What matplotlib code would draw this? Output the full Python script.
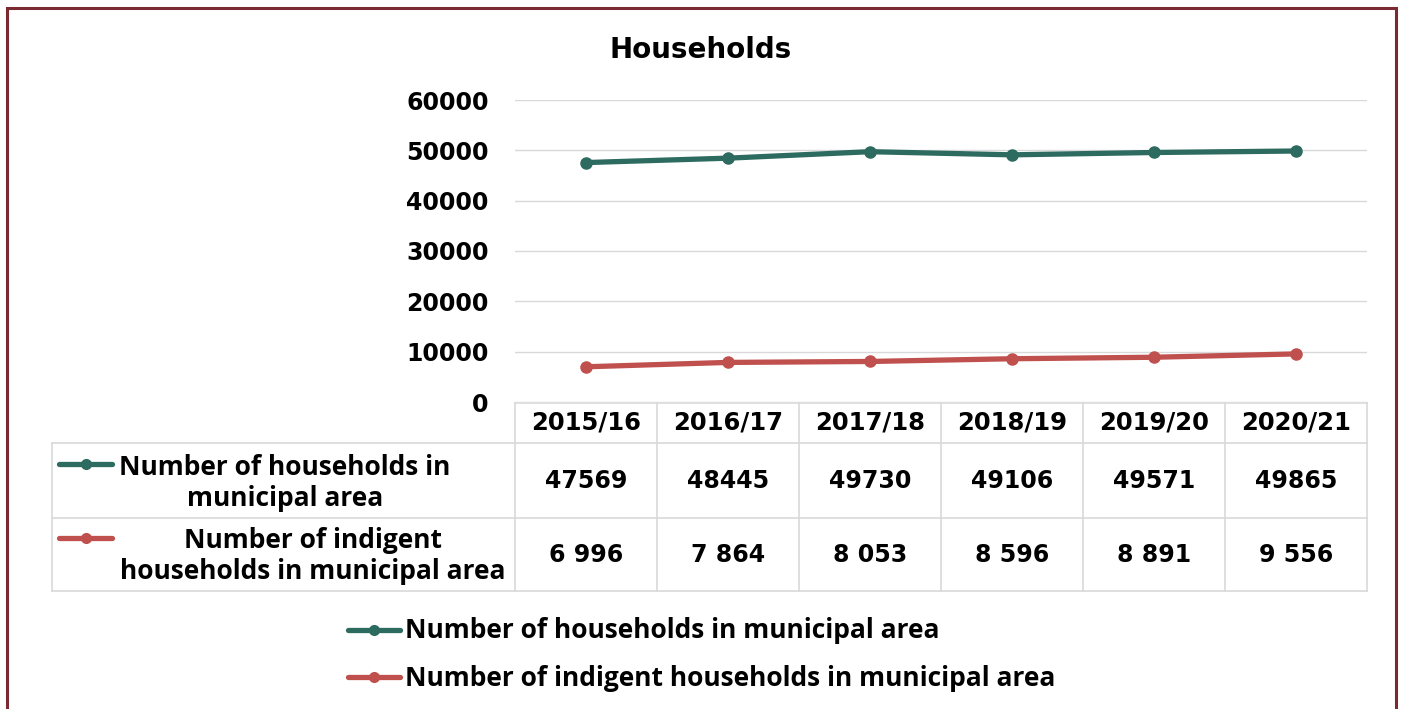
import matplotlib
matplotlib.use("Agg")
import matplotlib.pyplot as plt
from matplotlib.lines import Line2D
from matplotlib.patches import Rectangle
from matplotlib.transforms import blended_transform_factory

years = ["2015/16", "2016/17", "2017/18", "2018/19", "2019/20", "2020/21"]
households = [47569, 48445, 49730, 49106, 49571, 49865]
indigent = [6996, 7864, 8053, 8596, 8891, 9556]
households_txt = ["47569", "48445", "49730", "49106", "49571", "49865"]
indigent_txt = ["6 996", "7 864", "8 053", "8 596", "8 891", "9 556"]
series_names = ["Number of households in municipal area",
                "Number of indigent households in municipal area"]

GREEN = "#2d6a5f"
RED = "#c0504d"
GRID = "#d9d9d9"
W, H = 1402, 709
NARROW = "Open Sans"   # row headers and legend

plt.rcParams["font.family"] = "DejaVu Sans"
plt.rcParams["font.weight"] = "bold"

fig = plt.figure(figsize=(W / 100, H / 100), dpi=100)


def fx(px):
    return px / W


def fy(py):
    return 1 - py / H


ax = fig.add_axes([fx(515), fy(402), fx(1367) - fx(515), fy(100) - fy(402)])
x = list(range(len(years)))
ax.plot(x, households, color=GREEN, lw=3.8, marker="o", ms=8, zorder=3)
ax.plot(x, indigent, color=RED, lw=3.8, marker="o", ms=8, zorder=3)
ax.set_xlim(-0.5, len(years) - 0.5)
ax.set_ylim(0, 60000)
ax.set_yticks(range(0, 60001, 10000))
ax.set_xticks([])
ax.grid(axis="y", color=GRID, lw=1)
ax.set_axisbelow(True)
for s in ax.spines.values():
    s.set_visible(False)
ax.tick_params(axis="y", length=0, pad=19, labelsize=17)

fig.text(fx(701), fy(50), "Households", ha="center", va="center",
         fontsize=20, fontweight="bold")

# data table under the plot
tr = blended_transform_factory(ax.transData, fig.transFigure)
top, head, r1, r2 = 403, 443, 518, 591
left = 52
for yy, x0 in [(top, 515), (head, left), (r1, left), (r2, left)]:
    fig.add_artist(Line2D([fx(x0), fx(1367)], [fy(yy), fy(yy)], color=GRID, lw=1.2))
fig.add_artist(Line2D([fx(left), fx(left)], [fy(head), fy(r2)], color=GRID, lw=1.2))
for i in range(len(years) + 1):
    fig.add_artist(Line2D([i - 0.5, i - 0.5], [fy(top), fy(r2)], color=GRID,
                          lw=1.2, transform=tr))

for i, yr in enumerate(years):
    fig.text(i, fy((top + head) / 2), yr, transform=tr, ha="center", va="center",
             fontsize=17.5)
    fig.text(i, fy((head + r1) / 2), households_txt[i], transform=tr,
             ha="center", va="center", fontsize=17)
    fig.text(i, fy((r1 + r2) / 2), indigent_txt[i], transform=tr,
             ha="center", va="center", fontsize=17)

# row headers with legend keys
for color, ky in [(GREEN, 464), (RED, 538)]:
    fig.add_artist(Line2D([fx(59), fx(112)], [fy(ky), fy(ky)], color=color, lw=3.8,
                          solid_capstyle="round"))
    fig.add_artist(Line2D([fx(86)], [fy(ky)], color=color, marker="o", ms=7))
fig.text(fx(285), fy(483), "Number of households in\nmunicipal area", ha="center",
         va="center", fontsize=19, family=NARROW, fontweight="bold",
         linespacing=1.2)
fig.text(fx(313), fy(556), "Number of indigent\nhouseholds in municipal area",
         ha="center", va="center", fontsize=19, family=NARROW, fontweight="bold",
         linespacing=1.2)

# legend
for color, ly, name in [(GREEN, 630, series_names[0]), (RED, 677, series_names[1])]:
    fig.add_artist(Line2D([fx(348), fx(400)], [fy(ly), fy(ly)], color=color,
                          lw=3.8, solid_capstyle="round"))
    fig.add_artist(Line2D([fx(374)], [fy(ly)], color=color, marker="o", ms=7))
    fig.text(fx(405), fy(ly + 1), name, ha="left", va="center", fontsize=19,
             family=NARROW, fontweight="bold")

# outer frame
fig.add_artist(Rectangle((fx(7), fy(712)), fx(1396) - fx(7), fy(8) - fy(712),
                         fill=False, edgecolor="#7b2a32", lw=2.2,
                         transform=fig.transFigure))

fig.savefig("out.png", dpi=100)
